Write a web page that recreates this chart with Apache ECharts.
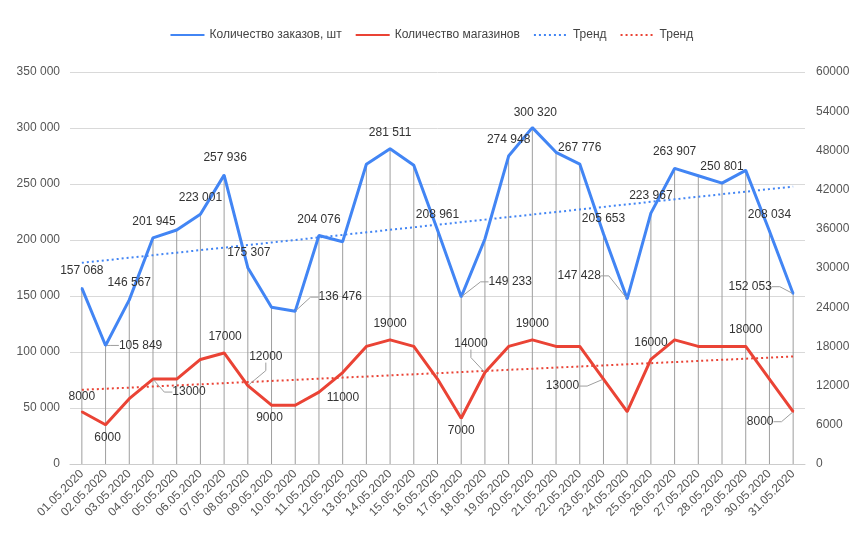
<!DOCTYPE html>
<html>
<head>
<meta charset="utf-8">
<script src="https://cdn.jsdelivr.net/npm/echarts@6/dist/echarts.min.js"></script>
<style>html,body{margin:0;padding:0;background:#fff}#c{width:866px;height:549px}</style>
</head>
<body>
<div id="c"></div>
<script>
// ---- Data ----
var categories = ['01.05.2020','02.05.2020','03.05.2020','04.05.2020','05.05.2020','06.05.2020','07.05.2020','08.05.2020','09.05.2020','10.05.2020','11.05.2020','12.05.2020','13.05.2020','14.05.2020','15.05.2020','16.05.2020','17.05.2020','18.05.2020','19.05.2020','20.05.2020','21.05.2020','22.05.2020','23.05.2020','24.05.2020','25.05.2020','26.05.2020','27.05.2020','28.05.2020','29.05.2020','30.05.2020','31.05.2020'];
var orders = [157068,105849,146567,201945,208900,223001,257936,175307,139900,136476,204076,198500,267600,281511,266700,208961,149233,200900,274948,300320,278300,267776,205653,147428,223967,263907,257400,250801,262200,208034,152053];
var shops = [8000,6000,10000,13000,13000,16000,17000,12000,9000,9000,11000,14000,18000,19000,18000,13000,7000,14000,18000,19000,18000,18000,13000,8000,16000,19000,18000,18000,18000,13000,8000];
var leftTicks = [0,50000,100000,150000,200000,250000,300000,350000];
var rightTicks = [0,6000,12000,18000,24000,30000,36000,42000,48000,54000,60000];
var legendNames = ['Количество заказов, шт','Количество магазинов','Тренд','Тренд '];

// ---- Label placement (layout only): index -> [dx, dy, leader] ----
var blueLabelPos = {0:[0,-17],1:[35,0,1],2:[0,-17],3:[1,-16],5:[0,-17],6:[1,-17],7:[1,-15],9:[45,-14,1],10:[0,-16],13:[0,-16],15:[0,-15],16:[49,-15,1],18:[0,-16],19:[3,-15],21:[0,-16],22:[0,-15],23:[-48,-23,1],24:[0,-17],25:[0,-17],27:[0,-16],29:[0,-16],30:[-43,-7,1]};
var redLabelPos = {0:[0,-15],1:[2,13],3:[36,13,1],6:[1,-16],7:[18,-29,1],8:[-2,12],10:[24,6],13:[0,-16],16:[0,12],17:[-14,-29,1],19:[0,-16],22:[-41,7,1],24:[0,-17],28:[0,-17],30:[-33,10,1]};

function fmtSpace(v){ return String(v).replace(/\B(?=(\d{3})+(?!\d))/g, ' '); }
function trend(arr){
  var n = arr.length, sx=0, sy=0, sxy=0, sxx=0;
  for (var i=0;i<n;i++){ sx+=i; sy+=arr[i]; sxy+=i*arr[i]; sxx+=i*i; }
  var b = (n*sxy - sx*sy)/(n*sxx - sx*sx), a = (sy - b*sx)/n;
  return arr.map(function(_,i){ return +(a+b*i).toFixed(2); });
}
function buildData(arr, pos){
  return arr.map(function(v,i){
    var p = pos[i];
    if (!p) return {value:v};
    return {value:v, label:{show:true}, labelLine:{show:!!p[2]}};
  });
}

var FONT = 'Arial, "Liberation Sans", sans-serif';
var BLUE = '#4285F4', RED = '#EA4335';

var chart = echarts.init(document.getElementById('c'), null, {renderer:'canvas'});
var labelCommon = {show:false, position:'inside', color:'#333', fontSize:12, fontFamily:FONT};
var labelLineCommon = {show:false, lineStyle:{color:'#9e9e9e', width:1}, length2:8};

chart.setOption({
  animation:false,
  textStyle:{fontFamily:FONT},
  legend:{
    top:24, left:'center', itemWidth:34, itemHeight:4, itemGap:13,
    itemStyle:{opacity:0},
    textStyle:{color:'#444', fontSize:12, fontFamily:FONT},
    data:legendNames
  },
  grid:{left:70, right:61, top:72, bottom:85, containLabel:false},
  xAxis:{
    type:'category', data:categories, boundaryGap:true,
    axisLine:{lineStyle:{color:'#ccc'}}, axisTick:{show:false},
    axisLabel:{rotate:45, color:'#555', fontSize:12, fontFamily:FONT, interval:0, margin:8}
  },
  yAxis:[{
    type:'value', min:leftTicks[0], max:leftTicks[leftTicks.length-1], interval:leftTicks[1]-leftTicks[0],
    axisLine:{show:false}, axisTick:{show:false},
    splitLine:{lineStyle:{color:'#d9d9d9'}},
    axisLabel:{color:'#555', fontSize:12, fontFamily:FONT, margin:10, formatter:fmtSpace}
  },{
    type:'value', min:rightTicks[0], max:rightTicks[rightTicks.length-1], interval:rightTicks[1]-rightTicks[0],
    axisLine:{show:false}, axisTick:{show:false}, splitLine:{show:false},
    axisLabel:{color:'#555', fontSize:12, fontFamily:FONT, margin:11, formatter:function(v){return String(v);}}
  }],
  series:[
    {type:'bar', data:orders, barWidth:1, yAxisIndex:0, silent:true, z:1,
     itemStyle:{color:'#9e9e9e'}},
    {name:legendNames[0], type:'line', yAxisIndex:0, data:buildData(orders, blueLabelPos), z:4,
     symbol:'circle', symbolSize:2, showSymbol:true, showAllSymbol:true,
     lineStyle:{color:BLUE, width:3}, itemStyle:{color:BLUE},
     label:Object.assign({}, labelCommon, {formatter:function(p){return fmtSpace(p.value);}}),
     labelLine:labelLineCommon,
     labelLayout:function(p){ var o = blueLabelPos[p.dataIndex]; return o ? {dx:o[0], dy:o[1], hideOverlap:false} : {}; }
    },
    {name:legendNames[1], type:'line', yAxisIndex:1, data:buildData(shops, redLabelPos), z:4,
     symbol:'circle', symbolSize:2, showSymbol:true, showAllSymbol:true,
     lineStyle:{color:RED, width:3}, itemStyle:{color:RED},
     label:Object.assign({}, labelCommon),
     labelLine:labelLineCommon,
     labelLayout:function(p){ var o = redLabelPos[p.dataIndex]; return o ? {dx:o[0], dy:o[1], hideOverlap:false} : {}; }
    },
    {name:legendNames[2], type:'line', yAxisIndex:0, data:trend(orders), z:3, symbol:'none', silent:true,
     lineStyle:{color:BLUE, width:2, type:[2,3]}, itemStyle:{color:BLUE}},
    {name:legendNames[3], type:'line', yAxisIndex:1, data:trend(shops), z:3, symbol:'none', silent:true,
     lineStyle:{color:RED, width:2, type:[2,3]}, itemStyle:{color:RED}}
  ]
});
</script>
</body>
</html>
